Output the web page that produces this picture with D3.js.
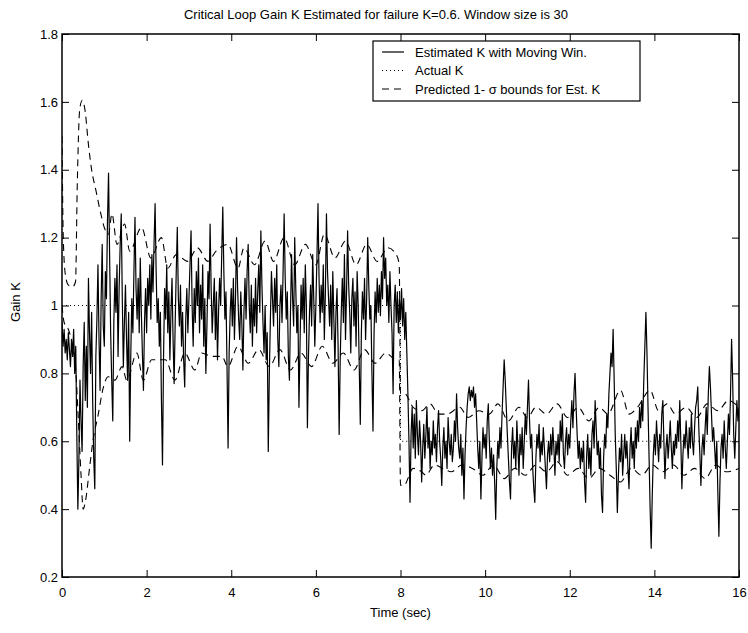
<!DOCTYPE html>
<html>
<head>
<meta charset="utf-8">
<script src="https://cdn.jsdelivr.net/npm/d3@7"></script>
<style>
  body { margin: 0; background: #fff; }
  svg { font-family: 'Liberation Sans', Arial, sans-serif; }
</style>
</head>
<body>
<svg></svg>
<script>
// estimated K, one sample every 0.025 s from 0 to 16 s (one row = one second)
let sampleStep = 0.025
let estK = [
  0.95, 0.88, 0.93, 0.86, 0.90, 0.84, 0.92, 0.87, 0.82, 0.90, 0.85, 0.93, 0.80, 0.88, 0.62, 0.40, 0.55, 0.78, 0.66, 0.57,
  0.82, 0.95, 0.72, 0.88, 0.70, 1.08, 0.92, 0.80, 0.98, 0.72, 0.55, 0.46, 0.85, 0.96, 1.12, 0.90, 0.75, 1.02, 1.18, 0.94,
  0.88, 1.10, 1.02, 1.25, 1.39, 1.15, 0.92, 0.78, 0.66, 0.95, 1.08, 0.98, 1.12, 0.85, 1.05, 1.18, 1.27, 1.02, 0.82, 0.95,
  1.06, 0.90, 0.78, 0.98, 0.60, 0.85, 1.02, 0.92, 1.10, 1.26, 1.05, 0.96, 1.08, 0.92, 1.14, 0.98, 0.86, 0.75, 0.95, 1.05,
  0.92, 1.08, 1.00, 1.12, 0.96, 1.15, 1.04, 1.18, 1.30, 1.10, 0.95, 1.02, 0.88, 0.98, 0.72, 0.53, 0.85, 1.05, 0.96, 1.12,
  0.92, 1.04, 0.84, 0.98, 1.08, 0.90, 0.77, 0.95, 1.10, 1.23, 1.02, 0.94, 1.06, 0.88, 0.98, 0.84, 0.76, 0.96, 1.05, 0.92,
  1.02, 1.12, 1.22, 1.00, 0.88, 1.05, 0.95, 1.10, 1.00, 1.14, 0.92, 1.06, 0.96, 1.12, 0.88, 1.02, 0.80, 0.94, 1.10, 1.02,
  1.24, 1.05, 0.92, 1.00, 1.08, 0.90, 1.04, 0.84, 0.98, 1.08, 1.00, 1.15, 1.29, 1.10, 0.96, 1.04, 0.82, 0.58, 0.86, 0.98,
  1.05, 0.94, 1.08, 0.90, 1.02, 1.20, 1.05, 0.96, 0.90, 1.04, 0.95, 0.81, 0.98, 1.08, 0.96, 1.10, 1.18, 1.00, 0.92, 1.06,
  0.88, 1.02, 0.94, 1.08, 0.92, 1.04, 1.12, 0.98, 1.22, 1.06, 0.95, 0.86, 1.00, 0.84, 0.92, 0.57, 0.80, 0.96, 1.10, 1.02,
  0.94, 1.08, 0.98, 1.12, 0.90, 0.82, 1.00, 1.06, 0.95, 1.10, 1.27, 1.08, 0.96, 1.04, 0.85, 0.78, 0.98, 1.15, 1.02, 0.94,
  1.20, 1.05, 0.92, 1.00, 0.70, 0.88, 1.06, 0.96, 1.08, 0.92, 1.12, 1.00, 0.64, 0.85, 0.98, 1.06, 0.94, 1.15, 1.02, 0.88,
  1.00, 1.14, 1.30, 1.08, 0.95, 1.06, 0.98, 1.12, 0.90, 1.04, 1.27, 1.10, 1.02, 0.94, 1.06, 0.90, 1.10, 0.96, 0.82, 0.98,
  1.05, 0.88, 0.62, 0.84, 0.98, 1.08, 0.95, 1.15, 0.90, 1.04, 1.22, 1.06, 0.98, 0.86, 1.02, 1.08, 0.94, 1.04, 0.88, 1.10,
  1.00, 0.82, 0.65, 0.92, 1.04, 0.96, 1.08, 0.90, 1.02, 1.20, 1.06, 0.96, 1.00, 0.80, 0.63, 0.92, 1.04, 0.95, 1.08, 0.98,
  1.06, 0.97, 1.10, 1.02, 1.20, 1.08, 1.14, 1.00, 1.06, 0.95, 1.10, 1.00, 0.92, 0.74, 1.00, 1.06, 0.95, 1.04, 0.92, 1.02,
  0.96, 1.05, 0.94, 1.02, 0.90, 0.98, 0.86, 0.74, 0.60, 0.42, 0.62, 0.70, 0.58, 0.68, 0.55, 0.72, 0.62, 0.56, 0.66, 0.60,
  0.48, 0.58, 0.65, 0.55, 0.62, 0.70, 0.58, 0.64, 0.52, 0.60, 0.56, 0.66, 0.58, 0.62, 0.54, 0.64, 0.69, 0.60, 0.55, 0.47,
  0.58, 0.64, 0.55, 0.60, 0.52, 0.67, 0.60, 0.56, 0.62, 0.54, 0.58, 0.66, 0.60, 0.74, 0.64, 0.58, 0.55, 0.62, 0.50, 0.58,
  0.43, 0.56, 0.64, 0.70, 0.74, 0.76, 0.72, 0.75, 0.73, 0.76, 0.70, 0.74, 0.66, 0.58, 0.52, 0.60, 0.43, 0.55, 0.64, 0.58,
  0.62, 0.55, 0.66, 0.71, 0.60, 0.52, 0.58, 0.50, 0.56, 0.48, 0.37, 0.52, 0.60, 0.55, 0.64, 0.58, 0.68, 0.76, 0.84, 0.78,
  0.70, 0.62, 0.55, 0.48, 0.43, 0.58, 0.64, 0.55, 0.60, 0.52, 0.66, 0.58, 0.50, 0.62, 0.56, 0.64, 0.52, 0.60, 0.68, 0.62,
  0.70, 0.78, 0.66, 0.58, 0.62, 0.52, 0.46, 0.42, 0.55, 0.62, 0.58, 0.65, 0.54, 0.60, 0.56, 0.64, 0.58, 0.52, 0.46, 0.56,
  0.60, 0.54, 0.62, 0.56, 0.64, 0.58, 0.50, 0.60, 0.56, 0.62, 0.54, 0.66, 0.60, 0.68, 0.56, 0.52, 0.60, 0.64, 0.56, 0.62,
  0.58, 0.66, 0.72, 0.64, 0.74, 0.80, 0.70, 0.62, 0.55, 0.60, 0.52, 0.58, 0.54, 0.60, 0.48, 0.42, 0.56, 0.62, 0.52, 0.58,
  0.50, 0.62, 0.66, 0.58, 0.72, 0.64, 0.56, 0.60, 0.52, 0.58, 0.44, 0.39, 0.55, 0.62, 0.58, 0.68, 0.64, 0.74, 0.80, 0.86,
  0.82, 0.93, 0.78, 0.62, 0.52, 0.39, 0.50, 0.58, 0.54, 0.62, 0.50, 0.56, 0.62, 0.55, 0.60, 0.52, 0.46, 0.58, 0.64, 0.55,
  0.60, 0.52, 0.64, 0.58, 0.66, 0.60, 0.70, 0.64, 0.72, 0.66, 0.78, 0.88, 0.98, 0.86, 0.70, 0.55, 0.40, 0.285, 0.44, 0.56,
  0.62, 0.56, 0.66, 0.60, 0.54, 0.62, 0.58, 0.68, 0.72, 0.60, 0.49, 0.58, 0.62, 0.55, 0.60, 0.66, 0.58, 0.52, 0.60, 0.56,
  0.62, 0.58, 0.66, 0.60, 0.72, 0.60, 0.46, 0.56, 0.62, 0.58, 0.66, 0.60, 0.55, 0.64, 0.58, 0.68, 0.60, 0.56, 0.64, 0.70,
  0.72, 0.76, 0.64, 0.56, 0.47, 0.58, 0.62, 0.56, 0.64, 0.70, 0.62, 0.74, 0.82, 0.76, 0.68, 0.60, 0.64, 0.58, 0.52, 0.60,
  0.45, 0.32, 0.48, 0.58, 0.62, 0.55, 0.66, 0.58, 0.52, 0.60, 0.68, 0.62, 0.74, 0.90, 0.78, 0.62, 0.55, 0.64, 0.72, 0.66,
  0.70
]

// predicted 1-sigma bounds
let upperT = [0, 0.03, 0.08, 0.15, 0.25, 0.32, 0.36, 0.42, 0.48, 0.55, 0.62, 0.7, 0.8, 0.9, 1.0, 1.1, 1.18, 1.3, 1.48, 1.6,
  1.88, 2.1, 2.35, 2.5, 2.7, 2.97, 3.2, 3.45, 3.64, 3.92, 4.16, 4.3, 4.55, 4.8, 5.0, 5.25, 5.5, 5.75, 6.0, 6.2,
  6.45, 6.7, 6.95, 7.2, 7.45, 7.7, 7.9, 7.97, 8.0, 8.1, 8.3, 8.5, 8.7, 8.9, 9.1, 9.4, 9.6, 9.85, 10.1, 10.3,
  10.55, 10.8, 11.0, 11.2, 11.45, 11.7, 11.95, 12.2, 12.45, 12.7, 12.9, 13.2, 13.4, 13.6, 13.9, 14.1, 14.3, 14.5, 14.75, 15.0,
  15.25, 15.5, 15.75, 16.0]
let upperK = [1.50, 1.20, 1.09, 1.06, 1.055, 1.07, 1.35, 1.58, 1.605, 1.57, 1.48, 1.40, 1.34, 1.28, 1.23, 1.21, 1.27, 1.18, 1.24, 1.16,
  1.23, 1.14, 1.20, 1.11, 1.15, 1.13, 1.17, 1.13, 1.16, 1.18, 1.11, 1.17, 1.12, 1.19, 1.13, 1.20, 1.12, 1.18, 1.12, 1.21,
  1.14, 1.19, 1.12, 1.18, 1.13, 1.17, 1.15, 1.12, 0.74, 0.74, 0.70, 0.69, 0.71, 0.68, 0.68, 0.70, 0.67, 0.69, 0.68, 0.71,
  0.66, 0.70, 0.67, 0.70, 0.68, 0.71, 0.67, 0.70, 0.66, 0.70, 0.68, 0.75, 0.68, 0.70, 0.75, 0.69, 0.71, 0.68, 0.70, 0.67,
  0.71, 0.69, 0.72, 0.70]

let lowerT = [0, 0.05, 0.15, 0.25, 0.33, 0.38, 0.45, 0.5, 0.55, 0.65, 0.73, 0.85, 0.97, 1.09, 1.25, 1.42, 1.53, 1.77, 1.92, 2.12,
  2.44, 2.67, 2.9, 3.14, 3.3, 3.54, 3.78, 3.92, 4.16, 4.4, 4.65, 4.9, 5.15, 5.4, 5.65, 5.9, 6.15, 6.4, 6.65, 6.9,
  7.15, 7.4, 7.65, 7.9, 7.97, 8.0, 8.08, 8.3, 8.5, 8.6, 8.8, 9.0, 9.2, 9.45, 9.7, 9.95, 10.2, 10.45, 10.7, 10.95,
  11.2, 11.45, 11.7, 11.95, 12.2, 12.45, 12.7, 12.95, 13.2, 13.45, 13.7, 13.95, 14.2, 14.45, 14.7, 14.95, 15.2, 15.45, 15.7, 16.0]
let lowerK = [1.0, 0.95, 0.93, 0.88, 0.80, 0.68, 0.50, 0.40, 0.42, 0.52, 0.60, 0.675, 0.755, 0.79, 0.78, 0.82, 0.78, 0.86, 0.78, 0.84,
  0.84, 0.78, 0.86, 0.81, 0.86, 0.85, 0.85, 0.82, 0.88, 0.83, 0.87, 0.82, 0.87, 0.81, 0.86, 0.82, 0.88, 0.83, 0.86, 0.81,
  0.87, 0.83, 0.86, 0.84, 0.84, 0.47, 0.47, 0.52, 0.51, 0.50, 0.53, 0.52, 0.51, 0.53, 0.52, 0.50, 0.53, 0.49, 0.52, 0.50,
  0.53, 0.51, 0.54, 0.50, 0.52, 0.49, 0.52, 0.50, 0.48, 0.52, 0.50, 0.53, 0.51, 0.53, 0.50, 0.52, 0.49, 0.53, 0.51, 0.52]

// actual K (step at the failure)
let actualT = [0, 8, 8, 16]
let actualK = [1.0, 1.0, 0.6, 0.6]

let xTicks = [0, 2, 4, 6, 8, 10, 12, 14, 16]
let yTicks = [0.2, 0.4, 0.6, 0.8, 1.0, 1.2, 1.4, 1.6, 1.8]
let legendLabels = ['Estimated K with Moving Win.', 'Actual K', 'Predicted 1- \u03c3 bounds for Est. K']

let width = 748
let height = 633
let margin = { top: 34, right: 9, bottom: 56, left: 62 }

let svg = d3.select('svg')
    .attr('width', width)
    .attr('height', height)

let xScale = d3.scaleLinear()
                .domain([0, 16])
                .range([margin.left, width - margin.right])

let yScale = d3.scaleLinear()
                .domain([0.2, 1.8])
                .range([height - margin.bottom, margin.top])

let fmt = d => String(+d.toFixed(1))

svg.append('g')
    .attr('transform', `translate(0, ${height - margin.bottom})`)
    .call(d3.axisBottom(xScale).tickValues(xTicks).tickFormat(fmt).tickSize(-7).tickPadding(11).tickSizeOuter(0))
svg.append('g')
    .attr('transform', `translate(0, ${margin.top})`)
    .call(d3.axisTop(xScale).tickValues(xTicks).tickFormat('').tickSize(-7).tickSizeOuter(0))
svg.append('g')
    .attr('transform', `translate(${margin.left}, 0)`)
    .call(d3.axisLeft(yScale).tickValues(yTicks).tickFormat(fmt).tickSize(-7).tickPadding(4).tickSizeOuter(0))
svg.append('g')
    .attr('transform', `translate(${width - margin.right}, 0)`)
    .call(d3.axisRight(yScale).tickValues(yTicks).tickFormat('').tickSize(-7).tickSizeOuter(0))

svg.selectAll('.domain').remove()
svg.selectAll('.tick line').attr('stroke', '#000').attr('stroke-width', 1)
svg.selectAll('.tick text').attr('fill', '#000').style('font-size', '13px')

let line = d3.line()
              .x(d => xScale(d[0]))
              .y(d => yScale(d[1]))

let smooth = d3.line()
              .x(d => xScale(d[0]))
              .y(d => yScale(d[1]))
              .curve(d3.curveMonotoneX)

svg.append('defs').append('clipPath').attr('id', 'plot')
  .append('rect')
    .attr('x', margin.left)
    .attr('y', margin.top)
    .attr('width', width - margin.left - margin.right)
    .attr('height', height - margin.top - margin.bottom)

let plot = svg.append('g').attr('clip-path', 'url(#plot)')

plot.append('path')
    .datum(actualT.map((t, i) => [t, actualK[i]]))
    .attr('d', line)
    .attr('fill', 'none')
    .attr('stroke', '#000')
    .attr('stroke-width', 1)
    .attr('stroke-dasharray', '1,3')

plot.selectAll('.bound')
  .data([upperT.map((t, i) => [t, upperK[i]]), lowerT.map((t, i) => [t, lowerK[i]])])
  .enter()
  .append('path')
    .attr('class', 'bound')
    .attr('d', smooth)
    .attr('fill', 'none')
    .attr('stroke', '#000')
    .attr('stroke-width', 1.1)
    .attr('stroke-dasharray', '7,5')

plot.append('path')
    .datum(estK.map((k, i) => [i * sampleStep, k]))
    .attr('d', line)
    .attr('fill', 'none')
    .attr('stroke', '#000')
    .attr('stroke-width', 1.2)
    .attr('stroke-linejoin', 'round')

// frame
svg.append('rect')
    .attr('x', margin.left)
    .attr('y', margin.top)
    .attr('width', width - margin.left - margin.right)
    .attr('height', height - margin.top - margin.bottom)
    .attr('fill', 'none')
    .attr('stroke', '#000')
    .attr('stroke-width', 1.5)

// legend
let legend = svg.append('g').attr('transform', 'translate(373, 41)')
legend.append('rect')
    .attr('width', 267)
    .attr('height', 60)
    .attr('fill', '#fff')
    .attr('stroke', '#000')
    .attr('stroke-width', 1.2)

let legendDash = [null, '1,3', '7,5']
legend.selectAll('.item')
  .data(legendLabels)
  .enter()
  .append('g')
    .attr('class', 'item')
    .attr('transform', (d, i) => `translate(0, ${11 + i * 18.5})`)
    .each(function (d, i) {
      let g = d3.select(this)
      g.append('line')
          .attr('x1', 9).attr('x2', 31)
          .attr('stroke', '#000')
          .attr('stroke-width', 1.2)
          .attr('stroke-dasharray', legendDash[i])
      g.append('text')
          .attr('x', 42)
          .attr('dy', '0.35em')
          .style('font-size', '13px')
          .text(d)
    })

svg.append('text')
    .attr('x', 376)
    .attr('y', 19)
    .style('text-anchor', 'middle')
    .style('font-size', '13px')
    .text('Critical Loop Gain K Estimated for failure K=0.6. Window size is 30')

svg.append('text')
    .attr('x', (margin.left + width - margin.right) / 2)
    .attr('y', 617)
    .style('text-anchor', 'middle')
    .style('font-size', '13px')
    .text('Time (sec)')

svg.append('text')
    .attr('transform', 'rotate(-90)')
    .attr('x', -302)
    .attr('y', 20)
    .style('text-anchor', 'middle')
    .style('font-size', '13px')
    .text('Gain K')
</script>
</body>
</html>
